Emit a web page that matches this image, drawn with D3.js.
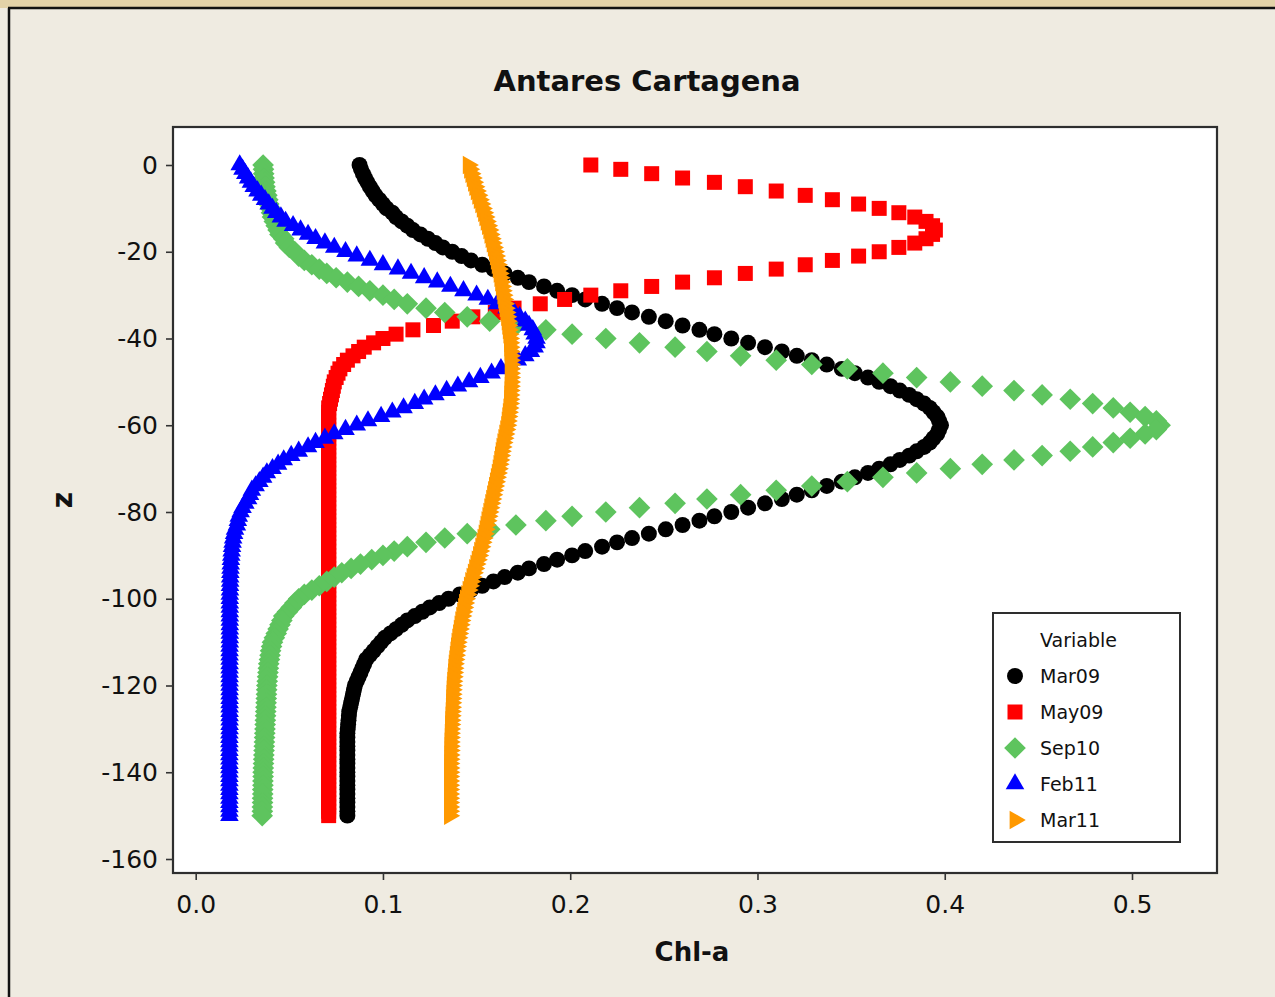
<!DOCTYPE html>
<html>
<head>
<meta charset="utf-8">
<script src="https://cdn.jsdelivr.net/npm/d3@7"></script>
<style>
  html, body { margin: 0; padding: 0; background: #efebe1; }
  svg { display: block; }
  text { font-family: "DejaVu Sans", Verdana, sans-serif; fill: #111; }
</style>
</head>
<body>
<svg width="1275" height="997"></svg>
<script>
// depth (m), one sample per metre
var depth = [0,-1,-2,-3,-4,-5,-6,-7,-8,-9,
  -10,-11,-12,-13,-14,-15,-16,-17,-18,-19,
  -20,-21,-22,-23,-24,-25,-26,-27,-28,-29,
  -30,-31,-32,-33,-34,-35,-36,-37,-38,-39,
  -40,-41,-42,-43,-44,-45,-46,-47,-48,-49,
  -50,-51,-52,-53,-54,-55,-56,-57,-58,-59,
  -60,-61,-62,-63,-64,-65,-66,-67,-68,-69,
  -70,-71,-72,-73,-74,-75,-76,-77,-78,-79,
  -80,-81,-82,-83,-84,-85,-86,-87,-88,-89,
  -90,-91,-92,-93,-94,-95,-96,-97,-98,-99,
  -100,-101,-102,-103,-104,-105,-106,-107,-108,-109,
  -110,-111,-112,-113,-114,-115,-116,-117,-118,-119,
  -120,-121,-122,-123,-124,-125,-126,-127,-128,-129,
  -130,-131,-132,-133,-134,-135,-136,-137,-138,-139,
  -140,-141,-142,-143,-144,-145,-146,-147,-148,-149,
  -150];

var mar09 = [0.0875,0.0883,0.0893,0.0904,0.0917,0.093,0.0945,0.096,0.098,0.100,
  0.102,0.105,0.107,0.110,0.113,0.116,0.120,0.124,0.128,0.132,
  0.137,0.142,0.147,0.153,0.159,0.165,0.172,0.178,0.186,0.193,
  0.201,0.208,0.217,0.225,0.233,0.242,0.251,0.260,0.269,0.277,
  0.286,0.295,0.304,0.313,0.321,0.329,0.337,0.345,0.352,0.359,
  0.365,0.371,0.376,0.381,0.385,0.389,0.392,0.394,0.396,0.397,
  0.398,0.397,0.396,0.394,0.392,0.389,0.385,0.381,0.376,0.371,
  0.365,0.359,0.352,0.345,0.337,0.329,0.321,0.313,0.304,0.295,
  0.286,0.277,0.269,0.260,0.251,0.242,0.233,0.225,0.217,0.208,
  0.201,0.193,0.186,0.178,0.172,0.165,0.159,0.153,0.147,0.141,
  0.135,0.130,0.125,0.121,0.117,0.113,0.110,0.107,0.104,0.101,
  0.099,0.097,0.095,0.093,0.091,0.090,0.089,0.088,0.087,0.086,
  0.085,0.0845,0.084,0.0835,0.083,0.0825,0.082,0.0818,0.0816,0.0814,
  0.0812,0.081,0.081,0.081,0.081,0.081,0.081,0.081,0.081,0.081,
  0.081,0.081,0.081,0.081,0.081,0.081,0.081,0.081,0.081,0.081,
  0.081];

var may09 = [0.211,0.227,0.2435,0.260,0.277,0.2935,0.310,0.3255,0.340,0.354,
  0.365,0.3755,0.384,0.390,0.3935,0.395,0.3935,0.390,0.384,0.3755,
  0.365,0.354,0.340,0.3255,0.310,0.2935,0.277,0.260,0.2435,0.227,
  0.211,0.197,0.184,0.170,0.160,0.148,0.137,0.127,0.116,0.107,
  0.100,0.095,0.090,0.087,0.084,0.081,0.079,0.077,0.076,0.075,
  0.074,0.0735,0.073,0.0725,0.072,0.0715,0.071,0.071,0.071,0.071,
  0.071,0.071,0.071,0.071,0.071,0.071,0.071,0.071,0.071,0.071,
  0.071,0.071,0.071,0.071,0.071,0.071,0.071,0.071,0.071,0.071,
  0.071,0.071,0.071,0.071,0.071,0.071,0.071,0.071,0.071,0.071,
  0.071,0.071,0.071,0.071,0.071,0.071,0.071,0.071,0.071,0.071,
  0.071,0.071,0.071,0.071,0.071,0.071,0.071,0.071,0.071,0.071,
  0.071,0.071,0.071,0.071,0.071,0.071,0.071,0.071,0.071,0.071,
  0.071,0.071,0.071,0.071,0.071,0.071,0.071,0.071,0.071,0.071,
  0.071,0.071,0.071,0.071,0.071,0.071,0.071,0.071,0.071,0.071,
  0.071,0.071,0.071,0.071,0.071,0.071,0.071,0.071,0.071,0.071,
  0.071];

var sep10 = [0.036,0.0362,0.0363,0.0365,0.0368,0.037,0.0375,0.038,0.0385,0.039,
  0.040,0.0405,0.041,0.042,0.043,0.044,0.045,0.047,0.048,0.050,
  0.053,0.055,0.058,0.062,0.066,0.070,0.075,0.081,0.087,0.093,
  0.100,0.106,0.113,0.123,0.133,0.145,0.157,0.171,0.187,0.201,
  0.219,0.237,0.256,0.273,0.291,0.310,0.329,0.348,0.367,0.385,
  0.403,0.420,0.437,0.452,0.467,0.479,0.490,0.499,0.507,0.513,
  0.515,0.513,0.507,0.499,0.490,0.479,0.467,0.452,0.437,0.420,
  0.403,0.385,0.367,0.348,0.329,0.310,0.291,0.273,0.256,0.237,
  0.219,0.201,0.187,0.171,0.157,0.145,0.133,0.123,0.113,0.106,
  0.100,0.094,0.088,0.083,0.078,0.074,0.070,0.066,0.062,0.058,
  0.055,0.053,0.051,0.049,0.047,0.046,0.045,0.044,0.043,0.042,
  0.041,0.0405,0.040,0.0397,0.0394,0.039,0.0388,0.0386,0.0384,0.0382,
  0.038,0.0379,0.0378,0.0377,0.0376,0.0375,0.0374,0.0373,0.0372,0.0371,
  0.037,0.0369,0.0368,0.0367,0.0366,0.0365,0.0364,0.0363,0.0362,0.0361,
  0.036,0.036,0.0359,0.0359,0.0358,0.0358,0.0357,0.0357,0.0356,0.0356,
  0.0355];

var feb11 = [0.0235,0.025,0.0265,0.028,0.0295,0.031,0.033,0.035,0.037,0.039,
  0.041,0.043,0.0455,0.048,0.052,0.056,0.060,0.064,0.069,0.074,
  0.080,0.086,0.093,0.100,0.108,0.115,0.122,0.129,0.136,0.143,
  0.150,0.156,0.161,0.166,0.170,0.173,0.176,0.178,0.180,0.181,
  0.182,0.182,0.181,0.179,0.176,0.172,0.168,0.163,0.158,0.152,
  0.146,0.140,0.134,0.128,0.122,0.117,0.111,0.105,0.099,0.092,
  0.086,0.080,0.074,0.069,0.064,0.060,0.055,0.051,0.047,0.044,
  0.041,0.038,0.036,0.034,0.032,0.030,0.029,0.028,0.0265,0.025,
  0.024,0.023,0.0225,0.022,0.021,0.0205,0.020,0.0197,0.0194,0.0192,
  0.019,0.0188,0.0187,0.0186,0.0185,0.0184,0.0184,0.0183,0.0183,0.0182,
  0.0182,0.0182,0.0182,0.0182,0.0182,0.0182,0.0182,0.0182,0.0182,0.0182,
  0.0182,0.0181,0.0181,0.0181,0.0181,0.0181,0.0181,0.0181,0.0181,0.0181,
  0.0181,0.0181,0.0181,0.0181,0.0181,0.0181,0.0181,0.0181,0.0181,0.0181,
  0.0181,0.018,0.018,0.018,0.018,0.018,0.018,0.018,0.018,0.018,
  0.018,0.018,0.018,0.018,0.018,0.018,0.018,0.018,0.018,0.018,
  0.018];

var mar11 = [0.1455,0.1462,0.1469,0.1476,0.1483,0.149,0.1498,0.1506,0.1514,0.1522,
  0.153,0.1537,0.1544,0.1551,0.1558,0.1565,0.1571,0.1577,0.1583,0.1589,
  0.1595,0.160,0.1605,0.161,0.1615,0.162,0.1624,0.1628,0.1632,0.1636,
  0.164,0.1644,0.1648,0.1652,0.1656,0.166,0.1663,0.1666,0.1669,0.1672,
  0.1675,0.1676,0.1677,0.1678,0.1679,0.168,0.168,0.168,0.168,0.168,
  0.168,0.1679,0.1678,0.1677,0.1676,0.1675,0.1672,0.1669,0.1666,0.1663,
  0.166,0.1655,0.165,0.1645,0.164,0.1635,0.1631,0.1627,0.1623,0.1619,
  0.1615,0.161,0.1605,0.160,0.1595,0.159,0.1585,0.158,0.1575,0.157,
  0.1565,0.156,0.1555,0.155,0.1545,0.154,0.1534,0.1528,0.1522,0.1516,
  0.151,0.1503,0.1496,0.1489,0.1482,0.1475,0.1468,0.1461,0.1454,0.1447,
  0.144,0.1435,0.143,0.1425,0.142,0.1415,0.1411,0.1407,0.1403,0.1399,
  0.1395,0.1392,0.1389,0.1386,0.1383,0.138,0.1378,0.1376,0.1374,0.1372,
  0.137,0.1369,0.1368,0.1367,0.1366,0.1365,0.1364,0.1363,0.1362,0.1361,
  0.136,0.1359,0.1359,0.1358,0.1358,0.1358,0.1357,0.1357,0.1356,0.1356,
  0.1356,0.1355,0.1355,0.1355,0.1355,0.1355,0.1355,0.1355,0.1355,0.1355,
  0.1355];

var seriesNames = ["Mar09", "May09", "Sep10", "Feb11", "Mar11"];
var xTicks = [0.0, 0.1, 0.2, 0.3, 0.4, 0.5];
var yTicks = [0, -20, -40, -60, -80, -100, -120, -140, -160];

var svg = d3.select("svg");
var plot = {left: 173, top: 127, right: 1217, bottom: 873};

var x = d3.scaleLinear().domain([0, 0.5]).range([195.7, 1132]);
var y = d3.scaleLinear().domain([0, -160]).range([165, 859]);

// window frame bits
svg.append("rect").attr("x", 0).attr("y", 0).attr("width", 1275).attr("height", 8).attr("fill", "#e3d2a8");
svg.append("line").attr("x1", 8).attr("x2", 1275).attr("y1", 8).attr("y2", 8).attr("stroke", "#111").attr("stroke-width", 2.5);
svg.append("line").attr("x1", 9).attr("x2", 9).attr("y1", 8).attr("y2", 997).attr("stroke", "#111").attr("stroke-width", 2.5);

// title
svg.append("text").attr("x", 647).attr("y", 91).attr("text-anchor", "middle")
  .style("font-size", "29px").style("font-weight", "bold").attr("fill", "#000").text("Antares Cartagena");

// plot area
svg.append("rect").attr("x", plot.left).attr("y", plot.top)
  .attr("width", plot.right - plot.left).attr("height", plot.bottom - plot.top)
  .attr("fill", "#fff");

// markers
var sym = {
  Mar09: d3.symbol().type(d3.symbolCircle).size(200),
  May09: d3.symbol().type(d3.symbolSquare).size(225),
  Sep10: d3.symbol().type(d3.symbolDiamond2).size(300),
  Feb11: d3.symbol().type(d3.symbolTriangle).size(150),
  Mar11: d3.symbol().type(d3.symbolTriangle).size(150)
};
var colors = {Mar09: "#000000", May09: "#ff0000", Sep10: "#5ec45e", Feb11: "#0000ff", Mar11: "#ff9900"};
var rot = {Mar09: 0, May09: 0, Sep10: 0, Feb11: 0, Mar11: 90};
var values = {Mar09: mar09, May09: may09, Sep10: sep10, Feb11: feb11, Mar11: mar11};

var pts = svg.append("g");
seriesNames.forEach(function(name) {
  var vals = values[name];
  var data = depth.map(function(z, i) { return {z: z, v: vals[i]}; })
    .filter(function(d) { return d.v != null; });
  pts.append("g").selectAll("path")
    .data(data)
    .enter()
    .append("path")
    .attr("d", sym[name]())
    .attr("transform", function(d) {
      return "translate(" + x(d.v) + "," + y(d.z) + ") rotate(" + rot[name] + ")";
    })
    .attr("fill", colors[name]);
});

// frame
svg.append("rect").attr("x", plot.left).attr("y", plot.top)
  .attr("width", plot.right - plot.left).attr("height", plot.bottom - plot.top)
  .attr("fill", "none").attr("stroke", "#2e2e2e").attr("stroke-width", 2.2);

// axes (plain hyphen for the minus sign, as in the original)
var yAxis = svg.append("g").attr("transform", "translate(" + plot.left + ",0)")
  .call(d3.axisLeft(y).tickValues(yTicks).tickSize(7).tickPadding(8)
    .tickFormat(function(d) { return String(d); }));
var xAxis = svg.append("g").attr("transform", "translate(0," + plot.bottom + ")")
  .call(d3.axisBottom(x).tickValues(xTicks).tickSize(7).tickPadding(15)
    .tickFormat(function(d) { return d.toFixed(1); }));
[yAxis, xAxis].forEach(function(a) {
  a.select(".domain").remove();
  a.selectAll(".tick line").attr("stroke", "#333").attr("stroke-width", 1.6);
  a.selectAll(".tick text").attr("fill", "#111").style("font-size", "25px")
    .style("font-family", "'DejaVu Sans', Verdana, sans-serif");
});

// axis titles
svg.append("text").attr("x", 692).attr("y", 961).attr("text-anchor", "middle")
  .style("font-size", "26px").style("font-weight", "bold").attr("fill", "#000").text("Chl-a");
svg.append("text").attr("transform", "translate(72,500) rotate(-90)").attr("text-anchor", "middle")
  .style("font-size", "28px").style("font-weight", "bold").attr("fill", "#000").text("z");

// legend
var lg = svg.append("g").attr("transform", "translate(993,613)");
lg.append("rect").attr("width", 187).attr("height", 229).attr("fill", "#fff")
  .attr("stroke", "#2e2e2e").attr("stroke-width", 2);
lg.append("text").attr("x", 47).attr("y", 34).style("font-size", "19px").text("Variable");
seriesNames.forEach(function(name, i) {
  var cy = 63 + i * 36;
  lg.append("path").attr("d", sym[name]())
    .attr("transform", "translate(22," + cy + ") rotate(" + rot[name] + ")")
    .attr("fill", colors[name]);
  lg.append("text").attr("x", 47).attr("y", cy + 7).style("font-size", "19px").text(name);
});
</script>
</body>
</html>
